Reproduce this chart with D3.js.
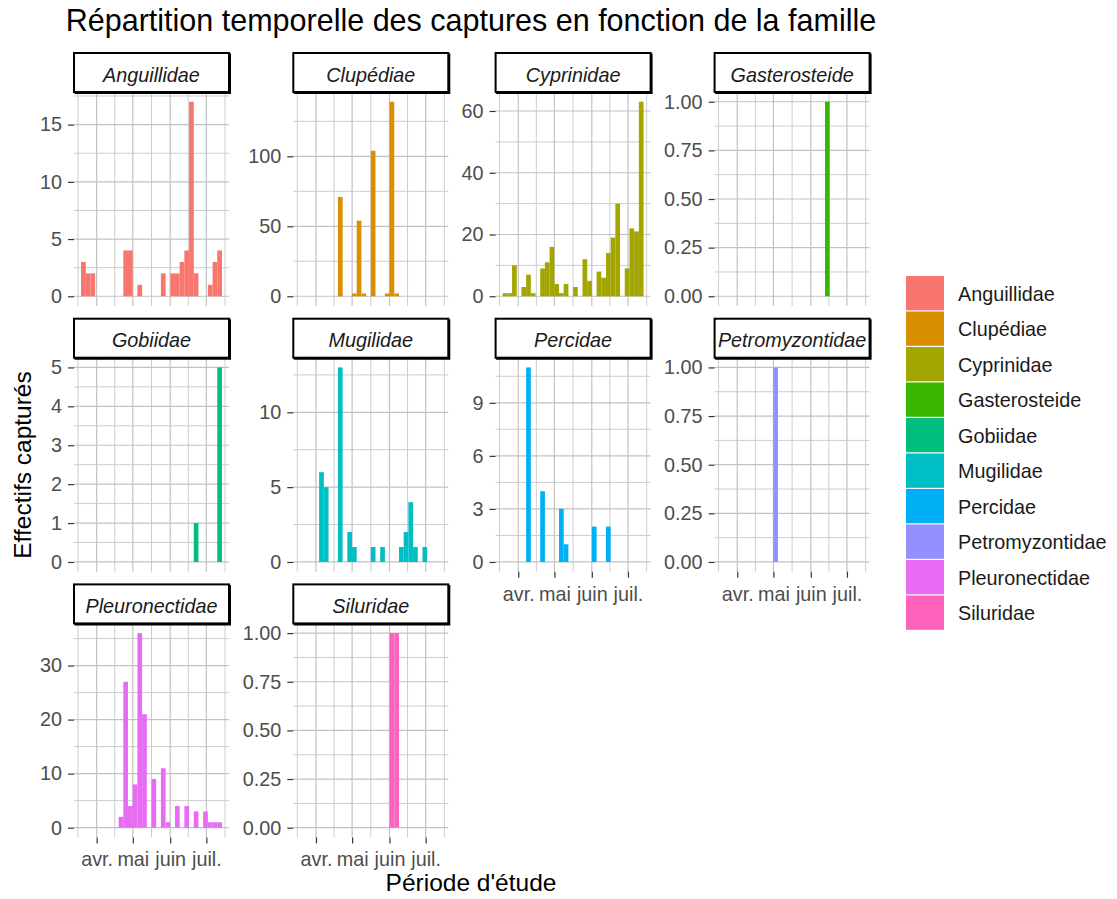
<!DOCTYPE html>
<html>
<head>
<meta charset="utf-8">
<script src="https://cdn.jsdelivr.net/npm/d3@7"></script>
<style>
  body { margin: 0; background: #ffffff; }
  svg { display: block; }
  text { font-family: "Liberation Sans", Arial, Helvetica, sans-serif; }
</style>
</head>
<body>
<svg id="chart" width="1117" height="899"></svg>
<script>
// ---- Data ---------------------------------------------------------------
const families = ["Anguillidae", "Clupédiae", "Cyprinidae", "Gasterosteide", "Gobiidae",
                  "Mugilidae", "Percidae", "Petromyzontidae", "Pleuronectidae", "Siluridae"];
const familyColours = ["#F8766D", "#D89000", "#A3A500", "#39B600", "#00BF7D",
                       "#00BFC4", "#00B0F6", "#9590FF", "#E76BF3", "#FF62BC"];

// Sampling period and histogram bins (30 bins, first/last centred on the first/last capture)
const firstCapture = "2021-03-21";
const lastCapture = "2021-07-12";
const nBins = 30;

// Catches per bin, one array per family
const anguillidae     = [3,2,2,0,0,0,0,0,0,4,4,0,1,0,0,0,0,2,0,2,2,3,4,17,2,0,0,1,3,4];
const clupediae       = [0,0,0,0,0,0,0,0,71,0,0,2,54,2,0,104,0,0,2,139,2,0,0,0,0,0,0,0,0,0];
const cyprinidae      = [1,1,10,0,3,7,1,0,9,11,16,4,1,4,0,3,0,12,5,0,8,6,14,19,30,0,9,22,21,63];
const gasterosteide   = [0,0,0,0,0,0,0,0,0,0,0,0,0,0,0,0,0,0,0,0,0,0,1,0,0,0,0,0,0,0];
const gobiidae        = [0,0,0,0,0,0,0,0,0,0,0,0,0,0,0,0,0,0,0,0,0,0,0,0,1,0,0,0,0,5];
const mugilidae       = [0,0,0,0,6,5,0,0,13,0,2,1,0,0,0,1,0,1,0,0,0,1,2,4,1,0,1,0,0,0];
const percidae        = [0,0,0,0,0,11,0,0,4,0,0,0,3,1,0,0,0,0,0,2,0,0,2,0,0,0,0,0,0,0];
const petromyzontidae = [0,0,0,0,0,0,0,0,0,0,0,1,0,0,0,0,0,0,0,0,0,0,0,0,0,0,0,0,0,0];
const pleuronectidae  = [0,0,0,0,0,0,0,0,2,27,4,8,36,21,0,9,0,11,1,0,4,0,4,0,3,0,3,1,1,1];
const siluridae       = [0,0,0,0,0,0,0,0,0,0,0,0,0,0,0,0,0,0,0,1,1,0,0,0,0,0,0,0,0,0];
const familyCounts = [anguillidae, clupediae, cyprinidae, gasterosteide, gobiidae,
                      mugilidae, percidae, petromyzontidae, pleuronectidae, siluridae];

// y break spacing of each facet (free y scales)
const yBreakSteps = [5, 50, 20, 0.25, 1, 5, 3, 0.25, 10, 0.25];

// Month breaks on the date axis
const monthBreaks = ["2021-04-01", "2021-05-01", "2021-06-01", "2021-07-01"];
const monthLabels = ["avr.", "mai", "juin", "juil."];

const titleText = "Répartition temporelle des captures en fonction de la famille";
const xTitle = "Période d'étude";
const yTitle = "Effectifs capturés";

// ---- Layout -------------------------------------------------------------
const colLeft = [74, 293.3, 495.6, 714.6];
const rowTop = [53, 318.7, 584.4];      // strip tops
const panelW = 155, panelH = 214, stripH = 39;
const nCols = 4;
const smallFont = 19.8;
const tickCol = "#4D4D4D";
const gridMajor = "#C2C2C2", gridMinor = "#CDCDCD";

const svg = d3.select("#chart");
svg.append("rect").attr("width", 1117).attr("height", 899).attr("fill", "#ffffff");

const parse = d3.utcParse("%Y-%m-%d");
const t0 = parse(firstCapture), t1 = parse(lastCapture);
const binW = (t1 - t0) / (nBins - 1);
const edges = d3.range(nBins + 1).map(i => new Date(+t0 - binW / 2 + i * binW));
const span = edges[nBins] - edges[0];
const x = d3.scaleUtc()
  .domain([new Date(+edges[0] - 0.05 * span), new Date(+edges[nBins] + 0.05 * span)])
  .range([0, panelW]);

const monthDates = monthBreaks.map(parse);
// minor date breaks halfway between month starts
const allMonths = d3.utcMonth.range(d3.utcMonth.floor(x.domain()[0]), d3.utcMonth.offset(x.domain()[1], 1));
const xMinor = d3.pairs(allMonths).map(([a, b]) => new Date((+a + +b) / 2))
  .filter(d => d >= x.domain()[0] && d <= x.domain()[1]);

families.forEach((fam, i) => {
  const col = i % nCols, row = Math.floor(i / nCols);
  const counts = familyCounts[i];
  const maxC = d3.max(counts);
  const y = d3.scaleLinear().domain([-0.05 * maxC, 1.05 * maxC]).range([panelH, 0]);
  const step = yBreakSteps[i];
  const yMajor = d3.range(0, y.domain()[1] + 1e-9, step);
  const yMinor = yMajor.map(v => v + step / 2).filter(v => v <= y.domain()[1]);

  const g = svg.append("g")
    .attr("transform", `translate(${colLeft[col]},${rowTop[row] + stripH})`);

  // grid
  const grid = g.append("g").attr("fill", "none");
  grid.selectAll(".xminor").data(xMinor).join("line")
    .attr("x1", d => x(d)).attr("x2", d => x(d)).attr("y1", 0).attr("y2", panelH)
    .attr("stroke", gridMinor).attr("stroke-width", 1);
  grid.selectAll(".yminor").data(yMinor).join("line")
    .attr("x1", 0).attr("x2", panelW).attr("y1", d => y(d)).attr("y2", d => y(d))
    .attr("stroke", gridMinor).attr("stroke-width", 1);
  grid.selectAll(".xmajor").data(monthDates).join("line")
    .attr("x1", d => x(d)).attr("x2", d => x(d)).attr("y1", 0).attr("y2", panelH)
    .attr("stroke", gridMajor).attr("stroke-width", 1.2);
  grid.selectAll(".ymajor").data(yMajor).join("line")
    .attr("x1", 0).attr("x2", panelW).attr("y1", d => y(d)).attr("y2", d => y(d))
    .attr("stroke", gridMajor).attr("stroke-width", 1.2);

  // histogram bars
  const bins = counts.map((c, k) => ({ c, x0: edges[k], x1: edges[k + 1] })).filter(b => b.c > 0);
  g.append("g").selectAll("rect").data(bins).join("rect")
    .attr("x", b => x(b.x0))
    .attr("width", b => x(b.x1) - x(b.x0))
    .attr("y", b => y(b.c))
    .attr("height", b => y(0) - y(b.c))
    .attr("fill", familyColours[i]);

  // y axis
  const fmt = step < 1 ? d3.format(".2f") : d3.format("d");
  const ya = g.append("g").call(d3.axisLeft(y).tickValues(yMajor).tickFormat(fmt).tickSize(6).tickPadding(6));
  ya.select(".domain").remove();
  ya.selectAll(".tick line").attr("stroke", "#333333").attr("stroke-width", 1.2);
  ya.selectAll(".tick text").attr("fill", tickCol).style("font-size", smallFont + "px");

  // x axis on the bottom panel of each column
  if (i + nCols >= families.length) {
    const xa = g.append("g").attr("transform", `translate(0,${panelH})`)
      .call(d3.axisBottom(x).tickValues(monthDates).tickFormat((d, k) => monthLabels[k]).tickSize(6).tickPadding(9));
    xa.select(".domain").remove();
    xa.selectAll(".tick line").attr("stroke", "#333333").attr("stroke-width", 1.2);
    xa.selectAll(".tick text").attr("fill", tickCol).style("font-size", smallFont + "px");
  }

  // strip
  const s = g.append("g").attr("transform", `translate(0,${-stripH})`);
  s.append("rect").attr("x", 0).attr("y", 0).attr("width", panelW).attr("height", stripH)
    .attr("fill", "#ffffff").attr("stroke", "#000000").attr("stroke-width", 2);
  s.append("path")
    .attr("d", `M${panelW + 1.2},0.5 V${stripH + 1.2} H0.5`)
    .attr("fill", "none").attr("stroke", "#000000").attr("stroke-width", 1.6);
  s.append("text").attr("x", panelW / 2).attr("y", 28.5)
    .attr("text-anchor", "middle").attr("fill", "#1A1A1A")
    .style("font-size", smallFont + "px").style("font-style", "italic")
    .text(fam);
});

// legend
const legend = svg.append("g").attr("transform", "translate(906,276)");
const keyPitch = 35.5;
families.forEach((fam, i) => {
  legend.append("rect").attr("x", 0).attr("y", i * keyPitch)
    .attr("width", 38).attr("height", keyPitch - 1.2).attr("fill", familyColours[i]);
  legend.append("text").attr("x", 52).attr("y", i * keyPitch + keyPitch / 2)
    .attr("dy", "0.35em").attr("fill", "#1A1A1A")
    .style("font-size", smallFont + "px").text(fam);
});

// titles
svg.append("text").attr("x", 471).attr("y", 31).attr("text-anchor", "middle")
  .attr("fill", "#000000").style("font-size", "30.5px").text(titleText);
svg.append("text").attr("x", 471).attr("y", 891).attr("text-anchor", "middle")
  .attr("fill", "#000000").style("font-size", "24.5px").text(xTitle);
svg.append("text").attr("transform", "translate(31,465) rotate(-90)").attr("text-anchor", "middle")
  .attr("fill", "#000000").style("font-size", "24.5px").text(yTitle);
</script>
</body>
</html>
